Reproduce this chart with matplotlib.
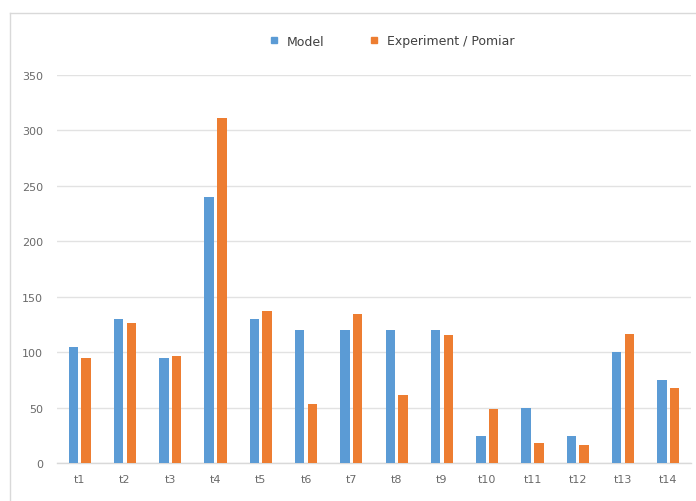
import matplotlib
matplotlib.use("Agg")
import matplotlib.pyplot as plt
import numpy as np
from matplotlib.lines import Line2D

categories = ["t1", "t2", "t3", "t4", "t5", "t6", "t7", "t8", "t9", "t10", "t11", "t12", "t13", "t14"]
model = [105, 130, 95, 240, 130, 120, 120, 120, 120, 24, 50, 24, 100, 75]
experiment = [95, 126, 96, 311, 137, 53, 134, 61, 115, 49, 18, 16, 116, 68]
series_names = ["Model", "Experiment / Pomiar"]
yticks = [0, 50, 100, 150, 200, 250, 300, 350]

W, H = 696, 502
fig = plt.figure(figsize=(W / 100, H / 100), dpi=100)
ax = fig.add_axes([57 / W, 1 - 464 / H, (691 - 57) / W, (464 - 75.7) / H])

x = np.arange(len(categories))
bw = 0.21
gap = 0.035
blue = "#5B9BD5"
orange = "#ED7D31"
ax.bar(x - bw / 2 - gap, model, width=bw, color=blue, label=series_names[0], zorder=3)
ax.bar(x + bw / 2 + gap, experiment, width=bw, color=orange, label=series_names[1], zorder=3)

ax.set_xlim(-0.5, len(categories) - 0.5)
ax.set_ylim(0, 350)
ax.set_yticks(yticks)
ax.set_xticks(x)
ax.set_xticklabels(categories)
ax.grid(axis="y", color="#e2e2e2", linewidth=1, zorder=0)
for s in ["top", "right", "left"]:
    ax.spines[s].set_visible(False)
ax.spines["bottom"].set_color("#d9d9d9")
ax.spines["bottom"].set_linewidth(1)
ax.tick_params(axis="both", length=0, colors="#6a6a6a", labelsize=8)
ax.tick_params(axis="x", pad=8)
ax.tick_params(axis="y", pad=10)

handles = [Line2D([], [], marker="s", linestyle="none", markersize=4, color=blue),
           Line2D([], [], marker="s", linestyle="none", markersize=4, color=orange)]
fig.legend(handles, series_names, loc="center", bbox_to_anchor=(388 / W, 1 - 42 / H),
           ncol=2, frameon=False, fontsize=9, handletextpad=0.0, columnspacing=3.0,
           labelcolor="#404040")

# outer chart border (light gray, partially visible)
fig.add_artist(Line2D([10 / W, 10 / W], [0, 1 - 14 / H], transform=fig.transFigure,
                      color="#d9d9d9", linewidth=1))
fig.add_artist(Line2D([10 / W, 1], [1 - 14 / H, 1 - 14 / H], transform=fig.transFigure,
                      color="#d9d9d9", linewidth=1))

fig.savefig("out.png", dpi=100)
